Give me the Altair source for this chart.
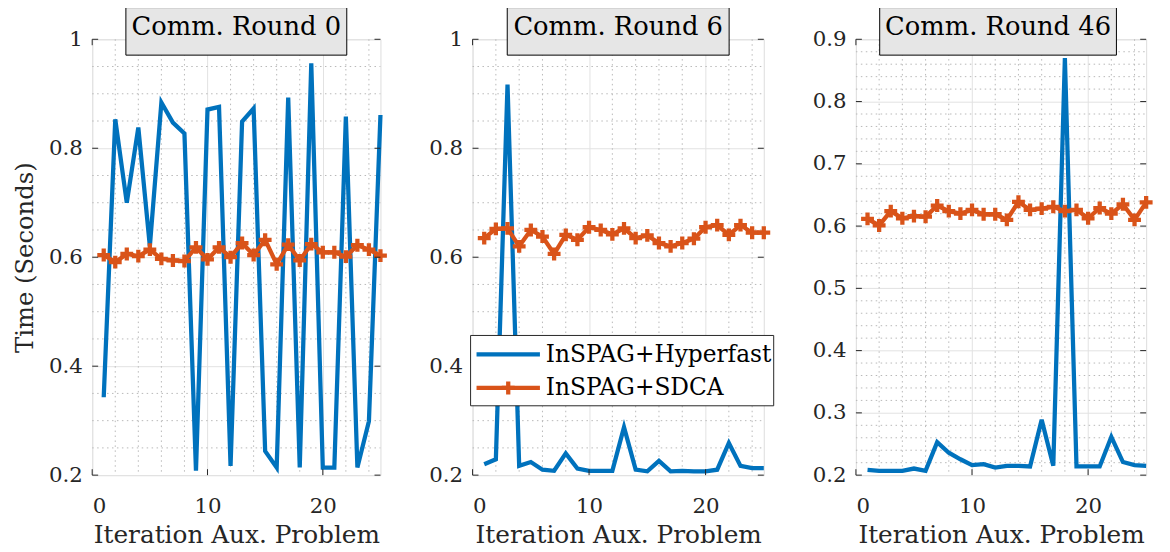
import altair as alt
import pandas as pd

# ---------------- data ----------------
iters = list(range(1, 26))
series_names = ["InSPAG+Hyperfast", "InSPAG+SDCA"]
panel_titles = ["Comm. Round 0", "Comm. Round 6", "Comm. Round 46"]

r0_hyper = [0.343, 0.853, 0.700, 0.838, 0.620, 0.884, 0.847, 0.827, 0.208, 0.871,
            0.876, 0.217, 0.849, 0.873, 0.244, 0.214, 0.893, 0.214, 0.956, 0.214,
            0.214, 0.858, 0.214, 0.299, 0.861]
r0_sdca = [0.604, 0.591, 0.606, 0.602, 0.614, 0.597, 0.594, 0.593, 0.618, 0.596,
           0.618, 0.600, 0.626, 0.604, 0.632, 0.587, 0.623, 0.594, 0.624, 0.609,
           0.609, 0.601, 0.622, 0.614, 0.603]

r6_hyper = [0.220, 0.229, 0.917, 0.217, 0.224, 0.210, 0.208, 0.240, 0.212, 0.208,
            0.208, 0.208, 0.288, 0.210, 0.207, 0.226, 0.207, 0.208, 0.207, 0.207,
            0.210, 0.259, 0.217, 0.213, 0.213]
r6_sdca = [0.635, 0.652, 0.653, 0.620, 0.650, 0.638, 0.606, 0.641, 0.632, 0.655,
           0.650, 0.642, 0.653, 0.635, 0.640, 0.626, 0.620, 0.626, 0.634, 0.655,
           0.659, 0.641, 0.659, 0.645, 0.645]

r46_hyper = [0.2085, 0.207, 0.207, 0.207, 0.2106, 0.207, 0.253, 0.236, 0.2255, 0.216,
             0.2175, 0.212, 0.215, 0.215, 0.214, 0.289, 0.215, 0.870, 0.214, 0.214,
             0.214, 0.2615, 0.221, 0.216, 0.215]
r46_sdca = [0.6115, 0.601, 0.624, 0.6125, 0.616, 0.615, 0.633, 0.624, 0.620, 0.626,
            0.619, 0.619, 0.610, 0.639, 0.626, 0.628, 0.631, 0.624, 0.626, 0.6125,
            0.629, 0.620, 0.635, 0.610, 0.638]

x_ticks = [0, 10, 20]
x_minor = [2, 4, 6, 8, 12, 14, 16, 18, 22, 24]
y_ticks_a = [0.2, 0.4, 0.6, 0.8, 1.0]
y_minor_a = [0.25, 0.3, 0.35, 0.45, 0.5, 0.55, 0.65, 0.7, 0.75, 0.85, 0.9, 0.95]
y_ticks_b = [0.2, 0.3, 0.4, 0.5, 0.6, 0.7, 0.8, 0.9]
y_minor_b = [0.22, 0.24, 0.26, 0.28, 0.32, 0.34, 0.36, 0.38, 0.42, 0.44, 0.46, 0.48,
             0.52, 0.54, 0.56, 0.58, 0.62, 0.64, 0.66, 0.68, 0.72, 0.74, 0.76, 0.78,
             0.82, 0.84, 0.86, 0.88]

# ---------------- style ----------------
BLUE = "#0072BD"
ORANGE = "#D95319"
AXC = "#262626"
FONT = "DejaVu Serif"
H = 440
TICK = 6
PLUS = "M-1,0L1,0M0,-1L0,1"


def panel(title, hyper, sdca, width, ydom, yticks, yminor, ytitle, legend, box_w, box_dx):
    xscale = alt.Scale(domain=[0, 25], nice=False, zero=False)
    yscale = alt.Scale(domain=ydom, nice=False, zero=False)
    xaxis = alt.Axis(values=x_ticks, grid=True, gridColor="#e2e2e2", gridWidth=1,
                     ticks=False, tickSize=0, domain=False, labelPadding=21,
                     labelFont=FONT, labelFontSize=21.5, labelColor=AXC,
                     title="Iteration Aux. Problem", titleFont=FONT, titleFontSize=25,
                     titleFontWeight="normal", titleColor=AXC, titlePadding=6)
    ykw = dict(values=yticks, format="~g", grid=True, gridColor="#e2e2e2", gridWidth=1,
               ticks=False, tickSize=0, domain=False, labelPadding=10,
               labelFont=FONT, labelFontSize=21.5, labelColor=AXC)
    if ytitle:
        ykw.update(title=ytitle, titleFont=FONT, titleFontSize=24.5,
                   titleFontWeight="normal", titleColor=AXC, titlePadding=11)
    else:
        ykw.update(title="")
    yaxis = alt.Axis(**ykw)
    X = alt.X("x:Q", scale=xscale, axis=xaxis)
    Y = alt.Y("y:Q", scale=yscale, axis=yaxis)

    d_hyper = pd.DataFrame({"x": iters, "y": hyper})
    d_sdca = pd.DataFrame({"x": iters, "y": sdca})
    d_xminor = pd.DataFrame({"x": x_minor})
    d_yminor = pd.DataFrame({"y": yminor})
    d_xt = pd.DataFrame({"x": x_ticks})
    d_yt = pd.DataFrame({"y": yticks})

    layers = []
    layers.append(alt.Chart(d_xminor).mark_rule(color="#b8b8b8", strokeDash=[1.5, 3.5], strokeWidth=1)
                  .encode(x=X, y=alt.value(0), y2=alt.value(H)))
    layers.append(alt.Chart(d_yminor).mark_rule(color="#b8b8b8", strokeDash=[1.5, 3.5], strokeWidth=1)
                  .encode(y=Y, x=alt.value(0), x2=alt.value(width)))
    layers.append(alt.Chart(d_hyper).mark_line(color=BLUE, strokeWidth=4.3, strokeJoin="miter")
                  .encode(x=X, y=Y))
    layers.append(alt.Chart(d_sdca).mark_line(color=ORANGE, strokeWidth=4.3)
                  .encode(x=X, y=Y))
    layers.append(alt.Chart(d_sdca).mark_point(shape=PLUS, filled=False, stroke=ORANGE,
                                               strokeWidth=4.3, size=169, opacity=1)
                  .encode(x=X, y=Y))
    # inward ticks on all four sides
    layers.append(alt.Chart(d_xt).mark_rule(color=AXC, strokeWidth=1)
                  .encode(x=X, y=alt.value(H), y2=alt.value(H - TICK)))
    layers.append(alt.Chart(d_xt).mark_rule(color=AXC, strokeWidth=1)
                  .encode(x=X, y=alt.value(0), y2=alt.value(TICK)))
    layers.append(alt.Chart(d_yt).mark_rule(color=AXC, strokeWidth=1)
                  .encode(y=Y, x=alt.value(0), x2=alt.value(TICK)))
    layers.append(alt.Chart(d_yt).mark_rule(color=AXC, strokeWidth=1)
                  .encode(y=Y, x=alt.value(width), x2=alt.value(width - TICK)))

    # title box
    d_title = pd.DataFrame({"t": [title]})
    cx = width / 2 + box_dx
    layers.append(alt.Chart(d_title).mark_rect(fill="#e6e6e6", stroke="#000000", strokeWidth=1)
                  .encode(x=alt.value(cx - box_w / 2), x2=alt.value(cx + box_w / 2),
                          y=alt.value(-32), y2=alt.value(16)))
    layers.append(alt.Chart(d_title).mark_text(font=FONT, fontSize=26, color="#000000",
                                               align="center", baseline="middle")
                  .encode(text="t:N", x=alt.value(cx), y=alt.value(-12)))

    if legend:
        d_l1 = pd.DataFrame({"t": [series_names[0]]})
        d_l2 = pd.DataFrame({"t": [series_names[1]]})
        layers.append(alt.Chart(d_l1).mark_rect(fill="#ffffff", stroke=AXC, strokeWidth=1)
                      .encode(x=alt.value(-2), x2=alt.value(304), y=alt.value(299), y2=alt.value(370)))
        layers.append(alt.Chart(d_l1).mark_rule(color=BLUE, strokeWidth=4.3)
                      .encode(x=alt.value(4), x2=alt.value(68), y=alt.value(318)))
        layers.append(alt.Chart(d_l2).mark_rule(color=ORANGE, strokeWidth=4.3)
                      .encode(x=alt.value(4), x2=alt.value(68), y=alt.value(352)))
        layers.append(alt.Chart(d_l2).mark_point(shape=PLUS, filled=False, stroke=ORANGE,
                                                 strokeWidth=4.3, size=169, opacity=1)
                      .encode(x=alt.value(36), y=alt.value(352)))
        layers.append(alt.Chart(d_l1).mark_text(font=FONT, fontSize=23.5, color="#000000",
                                                align="left", baseline="alphabetic")
                      .encode(text="t:N", x=alt.value(74), y=alt.value(326)))
        layers.append(alt.Chart(d_l2).mark_text(font=FONT, fontSize=23.5, color="#000000",
                                                align="left", baseline="alphabetic")
                      .encode(text="t:N", x=alt.value(74), y=alt.value(359)))

    return alt.layer(*layers).properties(width=width, height=H)


p0 = panel(panel_titles[0], r0_hyper, r0_sdca, 291, [0.2, 1.0], y_ticks_a, y_minor_a,
           "Time (Seconds)", False, 223, 0)
p1 = panel(panel_titles[1], r6_hyper, r6_sdca, 294, [0.2, 1.0], y_ticks_a, y_minor_a,
           None, True, 224, 0)
p2 = panel(panel_titles[2], r46_hyper, r46_sdca, 293, [0.2, 0.9], y_ticks_b, y_minor_b,
           None, False, 239, -3)

chart = (alt.hconcat(p0, p1, p2, spacing=93, bounds="flush")
         .properties(padding={"left": 4, "top": -4, "right": 0, "bottom": 0})
         .configure_view(stroke=AXC, strokeWidth=1)
         .configure(background="#ffffff"))

chart.save("out.html", embed_options={"renderer": "svg", "actions": False})
